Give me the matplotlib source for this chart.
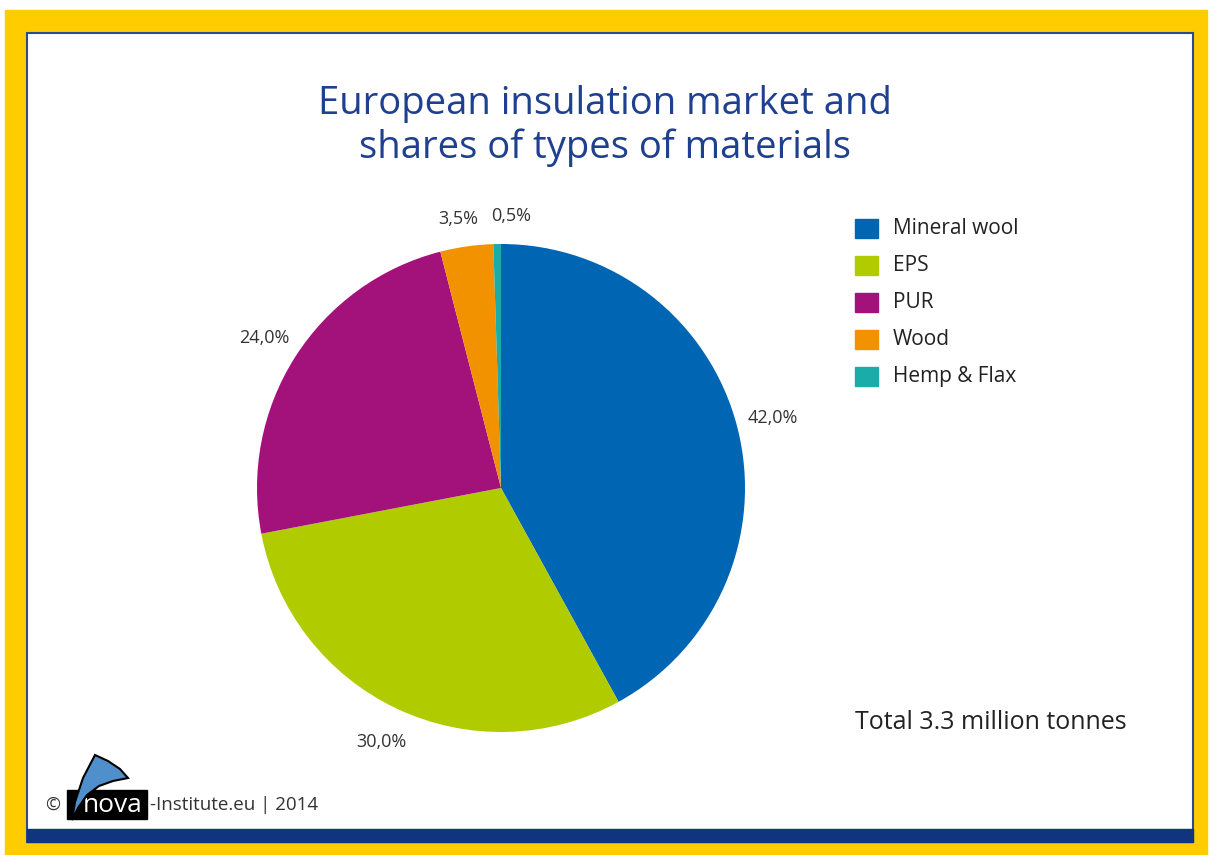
import matplotlib.pyplot as plt
from matplotlib.patches import Rectangle, Polygon

# insulation market shares (%)
materials = ['Mineral wool', 'EPS', 'PUR', 'Wood', 'Hemp & Flax']
shares = [42.0, 30.0, 24.0, 3.5, 0.5]
colors = ['#0066b3', '#b0cb00', '#a3117a', '#f39200', '#1aaca8']

title = 'European insulation market and\nshares of types of materials'
total_note = 'Total 3.3 million tonnes'
credit = '-Institute.eu | 2014'

plt.rcParams['font.family'] = ['Open Sans', 'DejaVu Sans']

W, H = 1210, 855
fig = plt.figure(figsize=(W / 100, H / 100), dpi=100)

# background layer in pixel coordinates
bg = fig.add_axes([0, 0, 1, 1])
bg.set_xlim(0, W)
bg.set_ylim(H, 0)
bg.axis('off')

bg.add_patch(Rectangle((5, 10), 1202, 845, color='#ffcc00', zorder=0))
bg.add_patch(Rectangle((27, 33), 1166, 809, facecolor='white',
                       edgecolor='#2c4a8c', lw=1.5, zorder=1))
bg.add_patch(Rectangle((27, 829), 1166, 13, color='#10357e', zorder=2))

bg.text(605, 126, title, ha='center', va='center', fontsize=27.5,
        color='#1f3f8f', linespacing=1.2)

# legend boxes
for i, (name, c) in enumerate(zip(materials, colors)):
    y = 228 + i * 37
    bg.add_patch(Rectangle((855, y - 9), 23, 19, color=c, zorder=3))
    bg.text(893, y, name, va='center', fontsize=15, color='#222222')

bg.text(855, 722, total_note, va='center', fontsize=18, color='#222222')

# footer with logo
bg.text(45, 805, '\u00a9', va='center', fontsize=13, color='#333333')
bg.add_patch(Rectangle((67, 790), 80, 29, color='black', zorder=3))
bg.text(113, 805, 'nova', ha='center', va='center', fontsize=19,
        color='white', zorder=4)
sail = [(72, 820), (75, 802), (83, 778), (95, 755), (108, 761), (120, 769),
        (128, 778), (113, 781), (99, 786), (87, 795), (78, 808)]
bg.add_patch(Polygon(sail, closed=True, facecolor='#4f8fcc',
                     edgecolor='black', lw=1.5, zorder=5))
bg.text(150, 805, credit, va='center', fontsize=13.5, color='#333333')

# pie chart
cx, cy, r = 501, 488, 244
ax = fig.add_axes([(cx - r) / W, (H - cy - r) / H, 2 * r / W, 2 * r / H])
wedges, texts, autotexts = ax.pie(
    shares, colors=colors, startangle=90, counterclock=False,
    autopct=lambda p: f'{p:.1f}%'.replace('.', ','), pctdistance=1.15,
    wedgeprops=dict(linewidth=0),
    textprops=dict(fontsize=13, color='#333333'))
# pull the two small top labels a bit closer to the rim and apart
for t in autotexts[3:]:
    x, y = t.get_position()
    t.set_position((x * 0.97, y * 0.97))
autotexts[3].set_x(autotexts[3].get_position()[0] - 0.02)
autotexts[4].set_x(autotexts[4].get_position()[0] + 0.06)
ax.set_xlim(-1, 1)
ax.set_ylim(-1, 1)
ax.axis('off')

fig.savefig('out.png', dpi=100)
